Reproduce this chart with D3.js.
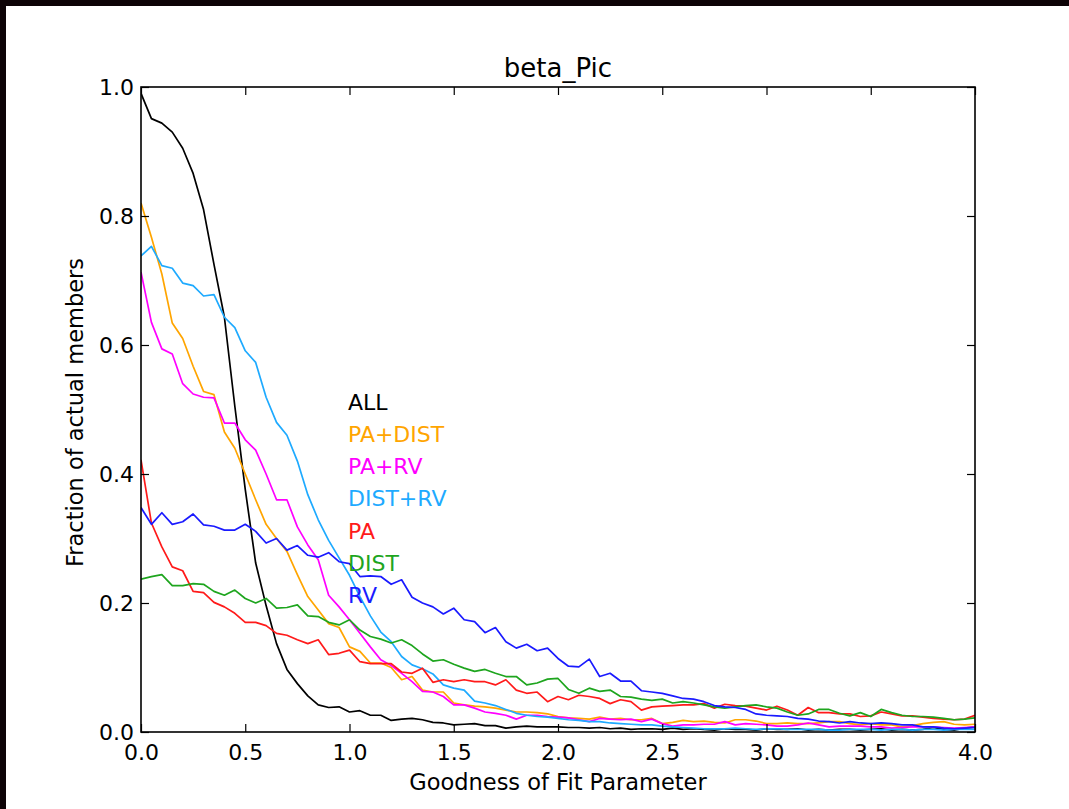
<!DOCTYPE html>
<html>
<head>
<meta charset="utf-8">
<script src="https://cdn.jsdelivr.net/npm/d3@7"></script>
<style>
  html, body { margin: 0; padding: 0; background: #fff; }
  svg { display: block; }
  text { font-family: "DejaVu Sans", sans-serif; }
</style>
</head>
<body>
<script>
// ---------------- data ----------------
const chartTitle = "beta_Pic";
const xLabel = "Goodness of Fit Parameter";
const yLabel = "Fraction of actual members";
const xTickValues = [0, 0.5, 1.0, 1.5, 2.0, 2.5, 3.0, 3.5, 4.0];
const xTickLabels = ["0.0", "0.5", "1.0", "1.5", "2.0", "2.5", "3.0", "3.5", "4.0"];
const yTickValues = [0, 0.2, 0.4, 0.6, 0.8, 1.0];
const yTickLabels = ["0.0", "0.2", "0.4", "0.6", "0.8", "1.0"];
const xStep = 0.05;
const nPoints = 81;

const seriesNames = ["ALL", "PA+DIST", "PA+RV", "DIST+RV", "PA", "DIST", "RV"];
const seriesColors = ["#000000", "#ffa500", "#ff00ff", "#1eaaff", "#ff1a1a", "#1ea51e", "#1a1aff"];

const ALL = [
  0.99,0.951,0.944,0.93,0.905,0.866,0.81,0.725,0.643,0.505,
  0.376,0.262,0.196,0.137,0.097,0.075,0.056,0.042,0.038,0.039,
  0.031,0.033,0.026,0.026,0.018,0.02,0.021,0.019,0.015,0.014,
  0.011,0.012,0.013,0.01,0.01,0.006,0.008,0.009,0.008,0.008,
  0.008,0.007,0.007,0.006,0.007,0.005,0.006,0.004,0.005,0.005,
  0.004,0.006,0.004,0.005,0.004,0.003,0.005,0.004,0.004,0.003,
  0.005,0.004,0.004,0.005,0.003,0.004,0.003,0.004,0.004,0.003,
  0.004,0.005,0.003,0.004,0.003,0.004,0.007,0.004,0.003,0.006,
  0.008];
const PA_DIST = [
  0.82,0.767,0.71,0.634,0.61,0.567,0.528,0.523,0.465,0.44,
  0.40,0.36,0.322,0.30,0.28,0.244,0.21,0.189,0.168,0.162,
  0.132,0.125,0.107,0.107,0.10,0.081,0.086,0.065,0.062,0.062,
  0.045,0.042,0.04,0.039,0.037,0.034,0.031,0.031,0.03,0.028,
  0.024,0.022,0.021,0.02,0.023,0.02,0.021,0.019,0.019,0.021,
  0.013,0.015,0.018,0.016,0.017,0.015,0.014,0.019,0.019,0.017,
  0.013,0.013,0.014,0.013,0.013,0.014,0.016,0.016,0.013,0.011,
  0.013,0.011,0.011,0.008,0.01,0.013,0.015,0.016,0.012,0.011,
  0.012];
const PA_RV = [
  0.713,0.635,0.594,0.586,0.54,0.524,0.519,0.518,0.479,0.479,
  0.453,0.437,0.40,0.36,0.36,0.318,0.29,0.267,0.212,0.194,
  0.174,0.153,0.132,0.112,0.103,0.091,0.078,0.063,0.062,0.055,
  0.042,0.042,0.037,0.031,0.029,0.026,0.02,0.026,0.026,0.024,
  0.023,0.022,0.019,0.016,0.021,0.02,0.019,0.02,0.016,0.02,
  0.013,0.009,0.011,0.011,0.012,0.012,0.016,0.011,0.013,0.012,
  0.011,0.009,0.009,0.011,0.014,0.011,0.008,0.009,0.009,0.009,
  0.008,0.008,0.006,0.007,0.008,0.008,0.008,0.007,0.006,0.007,
  0.008];
const DIST_RV = [
  0.738,0.753,0.723,0.719,0.696,0.692,0.676,0.678,0.643,0.627,
  0.591,0.573,0.519,0.48,0.46,0.42,0.368,0.329,0.297,0.27,
  0.243,0.21,0.18,0.155,0.14,0.117,0.104,0.098,0.09,0.073,
  0.068,0.065,0.048,0.045,0.041,0.035,0.029,0.026,0.024,0.023,
  0.021,0.019,0.018,0.016,0.016,0.014,0.013,0.012,0.011,0.011,
  0.009,0.008,0.007,0.006,0.005,0.005,0.005,0.006,0.005,0.004,
  0.005,0.005,0.004,0.004,0.004,0.004,0.003,0.003,0.004,0.004,
  0.004,0.003,0.004,0.004,0.003,0.004,0.004,0.003,0.004,0.004,
  0.004];
const PA = [
  0.422,0.324,0.287,0.256,0.25,0.218,0.216,0.201,0.194,0.184,
  0.17,0.17,0.165,0.153,0.15,0.143,0.137,0.143,0.12,0.122,
  0.127,0.109,0.106,0.106,0.106,0.093,0.091,0.099,0.077,0.081,
  0.078,0.081,0.078,0.078,0.073,0.081,0.065,0.06,0.062,0.047,
  0.055,0.05,0.057,0.055,0.052,0.044,0.05,0.047,0.034,0.039,
  0.04,0.041,0.042,0.042,0.044,0.037,0.043,0.041,0.04,0.037,
  0.034,0.04,0.034,0.026,0.038,0.03,0.03,0.028,0.028,0.024,
  0.025,0.031,0.028,0.025,0.025,0.023,0.021,0.02,0.019,0.02,
  0.026];
const DIST = [
  0.237,0.241,0.244,0.227,0.227,0.23,0.229,0.218,0.212,0.22,
  0.207,0.2,0.207,0.192,0.193,0.197,0.18,0.179,0.17,0.166,
  0.174,0.158,0.148,0.144,0.138,0.143,0.134,0.121,0.11,0.112,
  0.105,0.099,0.094,0.097,0.091,0.086,0.086,0.073,0.076,0.082,
  0.083,0.066,0.06,0.068,0.063,0.065,0.055,0.054,0.051,0.049,
  0.051,0.045,0.047,0.045,0.042,0.039,0.037,0.039,0.041,0.042,
  0.039,0.037,0.031,0.026,0.028,0.035,0.035,0.029,0.025,0.03,
  0.024,0.035,0.03,0.026,0.024,0.024,0.023,0.021,0.019,0.02,
  0.022];
const RV = [
  0.348,0.322,0.34,0.322,0.326,0.338,0.321,0.319,0.313,0.313,
  0.322,0.311,0.293,0.3,0.282,0.289,0.274,0.271,0.278,0.264,
  0.261,0.241,0.242,0.241,0.229,0.236,0.209,0.2,0.194,0.183,
  0.192,0.174,0.171,0.154,0.162,0.14,0.13,0.136,0.126,0.13,
  0.114,0.102,0.101,0.113,0.086,0.091,0.079,0.079,0.064,0.062,
  0.06,0.056,0.052,0.051,0.047,0.041,0.039,0.038,0.035,0.028,
  0.026,0.025,0.024,0.021,0.02,0.017,0.016,0.014,0.016,0.014,
  0.013,0.014,0.013,0.011,0.011,0.008,0.008,0.006,0.005,0.006,
  0.007];

const seriesValues = [ALL, PA_DIST, PA_RV, DIST_RV, PA, DIST, RV];
const legendX = 0.993;
const legendY = [0.5, 0.45, 0.4, 0.35, 0.3, 0.25, 0.2];

// ---------------- layout ----------------
const W = 1069, H = 809;
const plot = { left: 141, top: 87, right: 975, bottom: 732 };

const svg = d3.select("body").append("svg")
  .attr("width", W).attr("height", H);

svg.append("rect").attr("width", W).attr("height", H).attr("fill", "#fff");
// dark frame strips of the screenshot
svg.append("rect").attr("x", 0).attr("y", 0).attr("width", W).attr("height", 6).attr("fill", "#0d0306");
svg.append("rect").attr("x", 0).attr("y", 0).attr("width", 6).attr("height", H).attr("fill", "#0d0306");

const x = d3.scaleLinear().domain([0, 4]).range([plot.left, plot.right]);
const y = d3.scaleLinear().domain([0, 1]).range([plot.bottom, plot.top]);

const xValues = d3.range(nPoints).map(i => +(i * xStep).toFixed(2));

svg.append("defs").append("clipPath").attr("id", "clip")
  .append("rect")
  .attr("x", plot.left).attr("y", plot.top)
  .attr("width", plot.right - plot.left).attr("height", plot.bottom - plot.top);

const line = d3.line()
  .x((d, i) => x(xValues[i]))
  .y(d => y(d));

const lines = svg.append("g").attr("clip-path", "url(#clip)");
seriesValues.forEach((vals, k) => {
  lines.append("path")
    .datum(vals)
    .attr("d", line)
    .attr("fill", "none")
    .attr("stroke", seriesColors[k])
    .attr("stroke-width", 1.7)
    .attr("stroke-linejoin", "round");
});

// axes (ticks inward on all sides)
const fs = 22;
const xAxisB = d3.axisBottom(x).tickValues(xTickValues)
  .tickFormat((d, i) => xTickLabels[i]).tickSizeInner(-8).tickSizeOuter(0).tickPadding(12.3);
const xAxisT = d3.axisTop(x).tickValues(xTickValues)
  .tickFormat("").tickSizeInner(-8).tickSizeOuter(0);
const yAxisL = d3.axisLeft(y).tickValues(yTickValues)
  .tickFormat((d, i) => yTickLabels[i]).tickSizeInner(-8).tickSizeOuter(0).tickPadding(7);
const yAxisR = d3.axisRight(y).tickValues(yTickValues)
  .tickFormat("").tickSizeInner(-8).tickSizeOuter(0);

function styleAxis(g) {
  g.select(".domain").remove();
  g.selectAll(".tick line").attr("stroke", "#000").attr("stroke-width", 1.2);
  g.selectAll(".tick text").attr("fill", "#000")
    .style("font-family", "'DejaVu Sans', sans-serif").style("font-size", fs + "px");
}

svg.append("g").attr("transform", `translate(0,${plot.bottom})`).call(xAxisB).call(styleAxis);
svg.append("g").attr("transform", `translate(0,${plot.top})`).call(xAxisT).call(styleAxis);
svg.append("g").attr("transform", `translate(${plot.left},0)`).call(yAxisL).call(styleAxis);
svg.append("g").attr("transform", `translate(${plot.right},0)`).call(yAxisR).call(styleAxis);

// frame
svg.append("rect")
  .attr("x", plot.left).attr("y", plot.top)
  .attr("width", plot.right - plot.left).attr("height", plot.bottom - plot.top)
  .attr("fill", "none").attr("stroke", "#000").attr("stroke-width", 1.6);

// title and labels
svg.append("text")
  .attr("x", (plot.left + plot.right) / 2).attr("y", 77)
  .attr("text-anchor", "middle").style("font-size", "26px").attr("fill", "#000")
  .text(chartTitle);

svg.append("text")
  .attr("x", (plot.left + plot.right) / 2).attr("y", 790)
  .attr("text-anchor", "middle").style("font-size", "22.5px").attr("fill", "#000")
  .text(xLabel);

svg.append("text")
  .attr("transform", `translate(83,${(plot.top + plot.bottom) / 2 + 3}) rotate(-90)`)
  .attr("text-anchor", "middle").style("font-size", "22.5px").attr("fill", "#000")
  .text(yLabel);

// in-plot legend labels
seriesNames.forEach((name, k) => {
  svg.append("text")
    .attr("x", x(legendX)).attr("y", y(legendY[k]))
    .style("font-size", fs + "px")
    .attr("fill", seriesColors[k])
    .text(name);
});
</script>
</body>
</html>
